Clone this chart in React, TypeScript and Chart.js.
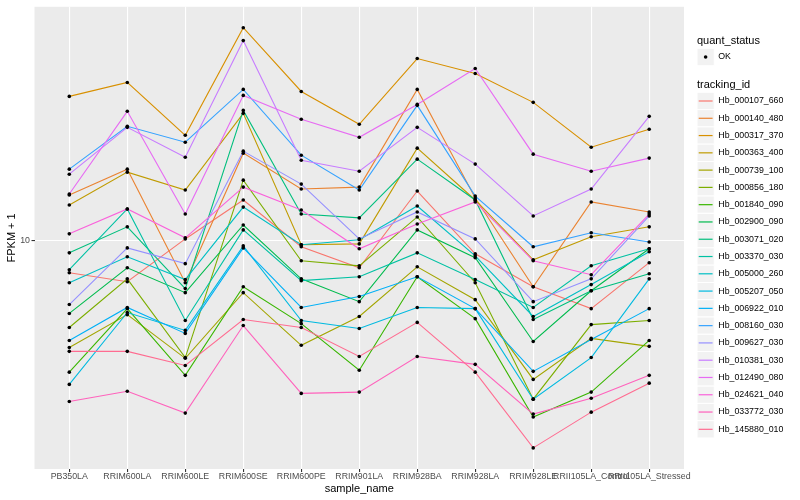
import React, { useEffect, useRef } from 'react';
import { Chart, registerables } from 'chart.js';

Chart.register(...registerables);

// ---- data ----
const sampleNames = [
  'PB350LA', 'RRIM600LA', 'RRIM600LE', 'RRIM600SE', 'RRIM600PE', 'RRIM901LA',
  'RRIM928BA', 'RRIM928LA', 'RRIM928LE', 'RRII105LA_Control', 'RRII105LA_Stressed',
];

const trackingIds = [
  'Hb_000107_660', 'Hb_000140_480', 'Hb_000317_370', 'Hb_000363_400', 'Hb_000739_100',
  'Hb_000856_180', 'Hb_001840_090', 'Hb_002900_090', 'Hb_003071_020', 'Hb_003370_030',
  'Hb_005000_260', 'Hb_005207_050', 'Hb_006922_010', 'Hb_008160_030', 'Hb_009627_030',
  'Hb_010381_030', 'Hb_012490_080', 'Hb_024621_040', 'Hb_033772_030', 'Hb_145880_010',
];

const palette = [
  '#F8766D', '#EA8331', '#D89000', '#C09B00', '#A3A500', '#7CAE00', '#39B600', '#00BB4E',
  '#00BF7D', '#00C1A3', '#00BFC4', '#00BAE0', '#00B0F6', '#35A2FF', '#9590FF', '#C77CFF',
  '#E76BF3', '#FA62DB', '#FF62BC', '#FF6C91',
];

// FPKM + 1 per sample (same order as sampleNames)
const hb000107_660 = [8.63, 8.28, 10.09, 12.08, 9.73, 8.83, 12.59, 9.42, 8.09, 7.31, 9.04];
const hb000140_480 = [12.36, 13.93, 8.24, 15.0, 12.71, 12.82, 20.14, 12.19, 8.09, 11.97, 11.43];
const hb000317_370 = [19.5, 20.8, 16.29, 26.79, 19.95, 17.14, 23.23, 21.68, 18.97, 15.42, 16.75];
const hb000363_400 = [11.8, 13.74, 12.65, 18.03, 9.82, 9.86, 15.35, 12.08, 9.16, 10.19, 10.67];
const hb000739_100 = [6.11, 7.11, 5.81, 7.87, 6.17, 7.05, 8.87, 7.62, 5.27, 6.37, 6.14];
const hb000856_180 = [6.7, 8.39, 5.83, 13.24, 9.12, 8.91, 11.17, 8.24, 4.81, 6.79, 6.92];
const hb001840_090 = [5.45, 7.31, 5.37, 8.09, 6.82, 5.5, 8.47, 6.98, 4.43, 4.97, 6.31];
const hb002900_090 = [7.15, 8.83, 7.87, 10.76, 8.39, 7.55, 10.52, 9.25, 6.28, 7.94, 9.64];
const hb003071_020 = [9.46, 10.67, 8.02, 18.28, 11.32, 11.12, 14.59, 12.08, 6.95, 7.94, 8.59];
const hb003370_030 = [8.75, 11.59, 6.92, 10.52, 8.32, 8.47, 9.46, 8.36, 7.35, 8.91, 9.64];
const hb005000_260 = [8.24, 9.29, 8.36, 11.69, 9.82, 10.05, 11.75, 9.33, 7.05, 8.17, 9.51];
const hb005207_050 = [5.15, 7.18, 6.61, 9.77, 6.92, 6.67, 7.35, 7.31, 4.81, 5.83, 8.39];
const hb006922_010 = [6.31, 7.35, 6.52, 9.68, 7.35, 7.73, 8.47, 7.31, 5.47, 6.34, 7.31];
const hb008160_030 = [13.93, 16.98, 15.78, 20.14, 14.86, 12.65, 18.71, 12.3, 9.73, 10.38, 9.95];
const hb009627_030 = [7.45, 9.68, 9.0, 15.14, 13.0, 10.09, 11.43, 10.09, 7.55, 8.39, 11.22];
const hb010381_030 = [13.61, 16.9, 14.72, 25.24, 14.52, 13.8, 16.9, 14.26, 11.22, 12.71, 17.78];
const hb012490_080 = [12.42, 18.2, 11.32, 19.59, 17.54, 16.14, 18.79, 22.18, 14.93, 13.8, 14.66];
const hb024621_040 = [10.33, 11.59, 10.14, 12.82, 11.53, 9.64, 10.81, 11.97, 9.12, 8.55, 11.32];
const hb033772_030 = [4.76, 4.99, 4.51, 6.76, 4.94, 4.97, 5.86, 5.65, 4.49, 4.83, 5.37];
const hb145880_010 = [6.0, 6.0, 5.62, 6.95, 6.7, 5.86, 6.86, 5.45, 3.84, 4.53, 5.18];

const seriesValues = [
  hb000107_660, hb000140_480, hb000317_370, hb000363_400, hb000739_100,
  hb000856_180, hb001840_090, hb002900_090, hb003071_020, hb003370_030,
  hb005000_260, hb005207_050, hb006922_010, hb008160_030, hb009627_030,
  hb010381_030, hb012490_080, hb024621_040, hb033772_030, hb145880_010,
];

const yBreaks = [10];
const yLimits = [3.483, 29.51];
const quantStatus = ['OK'];

const FONT = '"Liberation Sans", Arial, Helvetica, sans-serif';

export default function App() {
  const ref = useRef<HTMLCanvasElement>(null);

  useEffect(() => {
    document.body.style.margin = '0';
    const canvas = ref.current;
    if (!canvas) return;

    const n = seriesValues.length;
    const lineSets = seriesValues.map((vals, i) => ({
      label: trackingIds[i],
      data: vals.map((v, j) => ({ x: j, y: v })),
      borderColor: palette[i],
      backgroundColor: palette[i],
      borderWidth: 1.1,
      pointRadius: 0,
      pointHoverRadius: 0,
      fill: false,
      tension: 0,
      order: 1 + (n - 1 - i),
    }));
    const pointSets = seriesValues.map((vals, i) => ({
      label: trackingIds[i] + ' ' + quantStatus[0],
      data: vals.map((v, j) => ({ x: j, y: v })),
      showLine: false,
      borderColor: '#000000',
      backgroundColor: '#000000',
      pointBackgroundColor: '#000000',
      pointBorderWidth: 0,
      pointRadius: 1.8,
      pointHoverRadius: 1.8,
      order: 0,
    }));

    const panelBg = {
      id: 'panelBg',
      beforeDraw(chart: any) {
        const { ctx, chartArea } = chart;
        ctx.save();
        ctx.fillStyle = '#EBEBEB';
        ctx.fillRect(chartArea.left, chartArea.top, chartArea.right - chartArea.left, chartArea.bottom - chartArea.top);
        ctx.restore();
      },
    };

    const ggLegend = {
      id: 'ggLegend',
      afterDraw(chart: any) {
        const ctx = chart.ctx as CanvasRenderingContext2D;
        const x0 = 697;
        const k = 17.28;
        ctx.save();
        ctx.textAlign = 'left';
        ctx.textBaseline = 'middle';
        ctx.fillStyle = '#000000';
        ctx.font = `11px ${FONT}`;
        ctx.fillText('quant_status', x0, 41);

        // OK key
        const okY = 57;
        ctx.fillStyle = '#F2F2F2';
        ctx.fillRect(x0, okY - k / 2, k, k);
        ctx.strokeStyle = '#FFFFFF';
        ctx.lineWidth = 1;
        ctx.strokeRect(x0, okY - k / 2, k, k);
        ctx.fillStyle = '#000000';
        ctx.beginPath();
        ctx.arc(x0 + k / 2, okY, 1.8, 0, Math.PI * 2);
        ctx.fill();
        ctx.font = `8.8px ${FONT}`;
        ctx.fillText(quantStatus[0], x0 + k + 4, okY);

        ctx.font = `11px ${FONT}`;
        ctx.fillText('tracking_id', x0, 85);

        trackingIds.forEach((id, i) => {
          const cy = 101 + i * k;
          ctx.fillStyle = '#F2F2F2';
          ctx.fillRect(x0, cy - k / 2, k, k);
          ctx.strokeStyle = '#FFFFFF';
          ctx.lineWidth = 1;
          ctx.strokeRect(x0, cy - k / 2, k, k);
          ctx.strokeStyle = palette[i];
          ctx.lineWidth = 1.2;
          ctx.beginPath();
          ctx.moveTo(x0 + 1.7, cy);
          ctx.lineTo(x0 + k - 1.7, cy);
          ctx.stroke();
          ctx.fillStyle = '#000000';
          ctx.font = `8.8px ${FONT}`;
          ctx.fillText(id, x0 + k + 4, cy);
        });
        ctx.restore();
      },
    };

    const chart = new Chart(canvas, {
      type: 'line',
      data: { datasets: [...lineSets, ...pointSets] as any },
      options: {
        animation: false,
        responsive: false,
        events: [],
        layout: { padding: { top: 5, right: 116, bottom: 0, left: 0 } },
        plugins: {
          legend: { display: false },
          tooltip: { enabled: false },
        },
        scales: {
          x: {
            type: 'linear',
            min: -0.6,
            max: sampleNames.length - 1 + 0.6,
            bounds: 'data',
            afterBuildTicks: (s: any) => {
              s.ticks = sampleNames.map((_, i) => ({ value: i }));
            },
            afterFit: (s: any) => {
              s.height = 31;
            },
            ticks: {
              autoSkip: false,
              maxRotation: 0,
              minRotation: 0,
              padding: -1,
              color: '#4D4D4D',
              font: { family: FONT, size: 8.8 },
              callback: (v: any) => sampleNames[Number(v)] ?? '',
            },
            grid: {
              color: '#FFFFFF',
              lineWidth: 1.1,
              tickColor: '#333333',
              tickLength: 3,
              drawOnChartArea: true,
            },
            border: { display: false },
            title: {
              display: true,
              text: 'sample_name',
              color: '#000000',
              font: { family: FONT, size: 11 },
              padding: { top: 0, bottom: 4 },
            },
          },
          y: {
            type: 'logarithmic',
            min: yLimits[0],
            max: yLimits[1],
            afterBuildTicks: (s: any) => {
              s.ticks = yBreaks.map((v) => ({ value: v }));
            },
            afterFit: (s: any) => {
              s.width = 34.5;
            },
            ticks: {
              padding: 1.5,
              color: '#4D4D4D',
              font: { family: FONT, size: 8.8 },
              callback: (v: any) => String(v),
            },
            grid: {
              color: '#FFFFFF',
              lineWidth: 1.1,
              tickColor: '#333333',
              tickLength: 3,
            },
            border: { display: false },
            title: {
              display: true,
              text: 'FPKM + 1',
              color: '#000000',
              font: { family: FONT, size: 11 },
              padding: { top: 5, bottom: 0 },
            },
          },
        },
      } as any,
      plugins: [panelBg, ggLegend],
    });

    return () => chart.destroy();
  }, []);

  return (
    <div style={{ width: 800, height: 500, position: 'relative', background: '#FFFFFF' }}>
      <canvas ref={ref} width={800} height={500} style={{ display: 'block' }} />
    </div>
  );
}
